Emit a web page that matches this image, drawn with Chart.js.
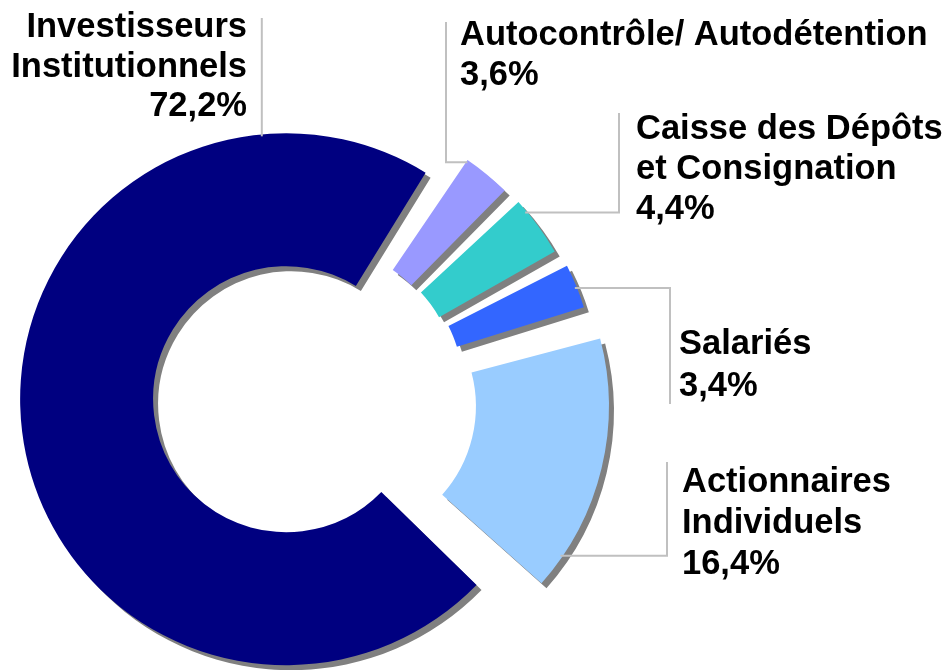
<!DOCTYPE html>
<html>
<head>
<meta charset="utf-8">
<script src="https://cdn.jsdelivr.net/npm/chart.js@4.4.1/dist/chart.umd.min.js"></script>
<style>
  html, body { margin: 0; padding: 0; background: #fff; }
  canvas { display: block; }
</style>
</head>
<body>
<canvas id="chart" width="949" height="670"></canvas>
<script>
// data
const categories = [
  ["Investisseurs", "Institutionnels"],
  ["Autocontrôle/ Autodétention"],
  ["Caisse des Dépôts", "et Consignation"],
  ["Salariés"],
  ["Actionnaires", "Individuels"]
];
const shares = [72.2, 3.6, 4.4, 3.4, 16.4];

// styles
const colors = ["#000080", "#9999FF", "#33CCCC", "#3366FF", "#99CCFF"];
const explode = [18, 22, 24, 28, 40];
const GAP = 9; // px cut between neighbouring slices
const FONT = 'bold 34.5px "Liberation Sans", Arial, sans-serif';

// label placement: text anchor + leader (f = fraction along the slice)
const labelLayout = [
  { x: 247, y: 37,  lh: 39.5, align: "right", f: 0.853, kind: "v",  toY: 18 },
  { x: 460, y: 45,  lh: 40,   align: "left",  f: 0.12,  kind: "hv", lx: 446, toY: 22 },
  { x: 636, y: 139, lh: 40,   align: "left",  f: 0.25,  kind: "hv", lx: 619, toY: 113 },
  { x: 679, y: 354, lh: 42,   align: "left",  f: 0.52,  kind: "hv", lx: 670, toY: 404 },
  { x: 682, y: 492, lh: 41,   align: "left",  f: 0.856, kind: "hv", lx: 667, toY: 462 }
];

const pct = v => v.toFixed(1).replace(".", ",") + "%";

function shift(arc, i) {
  const mid = (arc.startAngle + arc.endAngle) / 2;
  return { dx: Math.cos(mid) * explode[i], dy: Math.sin(mid) * explode[i] };
}

// exploded slices with a flat grey drop shadow
const explodePlugin = {
  id: "explode",
  beforeDatasetDraw(chart, args) {
    const ctx = chart.ctx;
    args.meta.data.forEach((arc, i) => {
      const s = shift(arc, i);
      const keep = { startAngle: arc.startAngle, endAngle: arc.endAngle, circumference: arc.circumference };
      const trim = (GAP / 2) / ((arc.innerRadius + arc.outerRadius) / 2);
      arc.startAngle += trim;
      arc.endAngle -= trim;
      arc.circumference -= 2 * trim;
      ctx.save();
      ctx.translate(s.dx, s.dy);
      ctx.shadowColor = "#808080";
      ctx.shadowOffsetX = 5;
      ctx.shadowOffsetY = 5;
      ctx.shadowBlur = 0;
      arc.draw(ctx);
      ctx.restore();
      Object.assign(arc, keep);
    });
    return false;
  }
};

const labelPlugin = {
  id: "labels",
  afterDraw(chart) {
    const ctx = chart.ctx;
    const arcs = chart.getDatasetMeta(0).data;
    arcs.forEach((arc, i) => {
      const L = labelLayout[i];
      const s = shift(arc, i);
      const a = arc.startAngle + (arc.endAngle - arc.startAngle) * L.f;
      const r = arc.outerRadius - 2;
      const ax = arc.x + s.dx + Math.cos(a) * r;
      const ay = arc.y + s.dy + Math.sin(a) * r;

      ctx.save();
      ctx.strokeStyle = "#C0C0C0";
      ctx.lineWidth = 2;
      ctx.beginPath();
      ctx.moveTo(ax, ay);
      if (L.kind === "v") {
        ctx.lineTo(ax, L.toY);
      } else {
        ctx.lineTo(L.lx, ay);
        ctx.lineTo(L.lx, L.toY);
      }
      ctx.stroke();

      ctx.fillStyle = "#000";
      ctx.font = FONT;
      ctx.textAlign = L.align;
      ctx.textBaseline = "alphabetic";
      const lines = categories[i].concat([pct(shares[i])]);
      lines.forEach((t, k) => ctx.fillText(t, L.x, L.y + k * L.lh));
      ctx.restore();
    });
  }
};

new Chart(document.getElementById("chart").getContext("2d"), {
  type: "doughnut",
  data: {
    labels: categories,
    datasets: [{
      data: shares,
      backgroundColor: colors,
      borderWidth: 0
    }]
  },
  options: {
    responsive: false,
    animation: false,
    rotation: 133,
    radius: 266,
    cutout: "50%",
    layout: { padding: { left: 0, right: 341, top: 124, bottom: 0 } },
    plugins: {
      legend: { display: false },
      tooltip: { enabled: false }
    },
    events: []
  },
  plugins: [explodePlugin, labelPlugin]
});
</script>
</body>
</html>
